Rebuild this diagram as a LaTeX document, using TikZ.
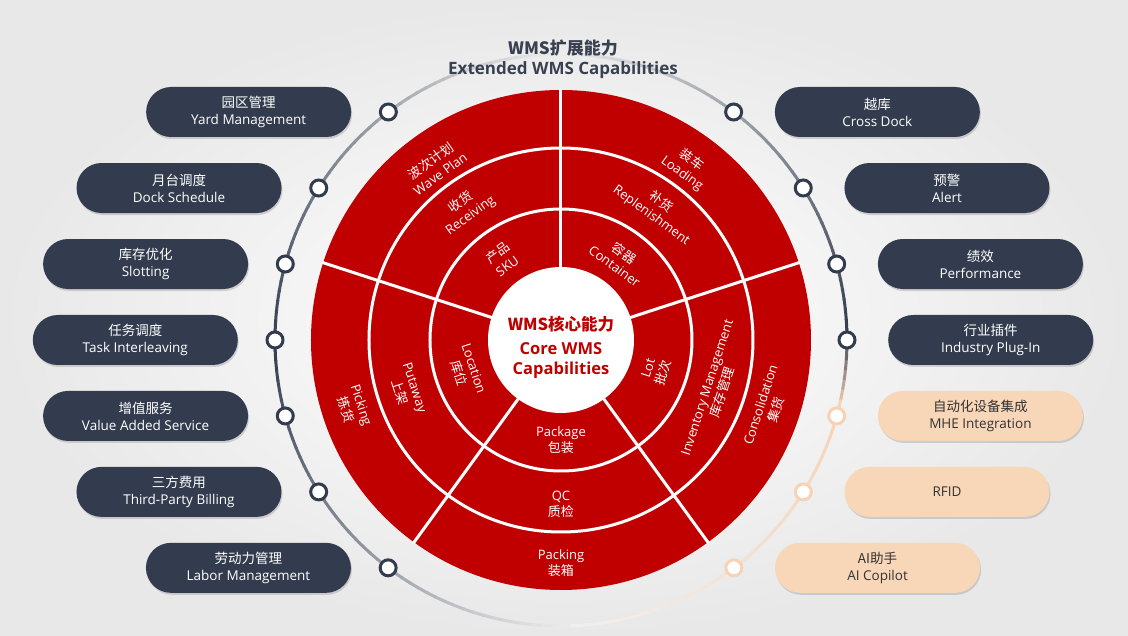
\documentclass[tikz,border=0pt]{standalone}
\usepackage{fontspec}
\setmainfont{Open Sans}
\newfontfamily\cjk{Noto Sans CJK SC}
\usepackage{tikz}
\usetikzlibrary{positioning,shadows}

\definecolor{wmsred}{HTML}{C00000}
\definecolor{slate}{HTML}{323C4E}
\definecolor{peach}{HTML}{F8D6B8}
\definecolor{peachline}{HTML}{F7D2B4}
\definecolor{titlecol}{HTML}{394150}
\definecolor{bgedge}{HTML}{E8E8E8}
\definecolor{arcfade}{HTML}{F1F1F1}

\tikzset{
  extbox/.style={rounded corners=25pt, minimum width=205pt, minimum height=50pt, inner sep=0pt,
    align=center, font=\fontsize{13.5}{17}\selectfont,
    drop shadow={shadow xshift=1pt, shadow yshift=-2pt, opacity=0.3}},
  extdark/.style={extbox, fill=slate, text=white},
  extpeach/.style={extbox, fill=peach, text=black!80},
  hubdot/.style={circle, draw=slate, line width=3pt, fill=white, minimum size=16pt, inner sep=0pt},
  hubdark/.style={hubdot},
  hubpeach/.style={hubdot, draw=peachline},
  ringlbl/.style={text=white, align=center, font=\fontsize{13}{16}\selectfont, inner sep=0pt},
}

\begin{document}
\begin{tikzpicture}[x=1pt,y=1pt]
    % Background
    \shade[inner color=white, outer color=bgedge] (-561,-296) rectangle (567,340);
    \useasboundingbox (-561,-296) rectangle (567,340);

    % Outer arcs
    \foreach \a in {92,94,...,266} {
        \pgfmathsetmacro\p{max(0,100*(1-abs(\a-180)/92))}
        \draw[line width=3pt, draw=slate!\p!arcfade] (\a:286) arc[start angle=\a, delta angle=2.3, radius=286];
    }
    \foreach \a in {0,2,...,86} {
        \pgfmathsetmacro\p{max(0,100*(1-\a/92))}
        \draw[line width=3pt, draw=slate!\p!arcfade] (\a:286) arc[start angle=\a, delta angle=2.3, radius=286];
    }
    \foreach \a in {-14,-12,...,-2} {
        \pgfmathsetmacro\p{100*(1+\a/14)}
        \draw[line width=3pt, draw=slate!\p!peachline] (\a:286) arc[start angle=\a, delta angle=2.3, radius=286];
    }
    \foreach \a in {-88,-86,...,-16} {
        \pgfmathsetmacro\p{max(0,100*(1-(abs(\a)-14)/76))}
        \draw[line width=3pt, draw=peachline!\p!arcfade] (\a:286) arc[start angle=\a, delta angle=2.3, radius=286];
    }

    % Title
    \node[text=titlecol, align=center, font=\bfseries\fontsize{17}{20}\selectfont] (title) at (2,281)
        {{\cjk\bfseries WMS扩展能力}\\Extended WMS Capabilities};

    % Core disc
    \fill[wmsred] (0,0) circle[radius=250];
    \foreach \r in {131,192}
        \draw[white, line width=3pt] (0,0) circle[radius=\r];
    \foreach \a in {18,90,...,306}
        \draw[white, line width=3pt] (\a:72) -- (\a:251);
    \fill[white] (0,0) circle[radius=73];
    \node[text=wmsred, align=center, font=\bfseries\fontsize{16.5}{20}\selectfont] (core) at (0,-7)
        {{\cjk\bfseries WMS核心能力}\\[4pt]Core WMS\\Capabilities};

    % Ring labels
    \foreach \nm/\ang/\rad/\rot/\txt in {
        sku/126/100/36/{{\cjk 产品}\\SKU},
        container/54/100/-36/{{\cjk 容器}\\Container},
        lot/-18/100/72/{Lot\\{\cjk 批次}},
        package/270/100/0/{Package\\{\cjk 包装}},
        location/198/100/-72/{Location\\{\cjk 库位}},
        receiving/126/162/36/{{\cjk 收货}\\Receiving},
        replenish/54/162/-36/{{\cjk 补货}\\Replenishment},
        inventory/-18/162/72/{Inventory Management\\{\cjk 库存管理}},
        qc/270/164/0/{QC\\{\cjk 质检}},
        putaway/198/162/-72/{Putaway\\{\cjk 上架}},
        waveplan/126/214/36/{{\cjk 波次计划}\\Wave Plan},
        loading/54/214/-36/{{\cjk 装车}\\Loading},
        consol/-18/218/72/{Consolidation\\{\cjk 集货}},
        packing/270/223/0/{Packing\\{\cjk 装箱}},
        picking/198/218/-72/{Picking\\{\cjk 拣货}}}
        \node[ringlbl, rotate=\rot] (\nm) at (\ang:\rad) {\txt};

    % Extended capabilities, left
    \foreach \nm/\k/\txt in {
        yard/3/{{\cjk 园区管理}\\Yard Management},
        dock/2/{{\cjk 月台调度}\\Dock Schedule},
        slot/1/{{\cjk 库存优化}\\Slotting},
        task/0/{{\cjk 任务调度}\\Task Interleaving},
        vas/-1/{{\cjk 增值服务}\\Value Added Service},
        billing/-2/{{\cjk 三方费用}\\Third-Party Billing},
        labor/-3/{{\cjk 劳动力管理}\\Labor Management}} {
        \pgfmathsetmacro\ang{180-asin(76*\k/286)}
        \node[hubdot] (c\nm) at (\ang:286) {};
        \node[extdark, left=27.5pt of c\nm] (\nm) {\txt};
    }

    % Extended capabilities, right
    \foreach \nm/\k/\sty/\txt in {
        xdock/3/dark/{{\cjk 越库}\\Cross Dock},
        alert/2/dark/{{\cjk 预警}\\Alert},
        perf/1/dark/{{\cjk 绩效}\\Performance},
        plugin/0/dark/{{\cjk 行业插件}\\Industry Plug-In},
        mhe/-1/peach/{{\cjk 自动化设备集成}\\MHE Integration},
        rfid/-2/peach/{RFID},
        copilot/-3/peach/{{\cjk AI助手}\\AI Copilot}} {
        \pgfmathsetmacro\ang{asin(76*\k/286)}
        \node[hub\sty] (c\nm) at (\ang:286) {};
        \node[ext\sty, right=31.5pt of c\nm] (\nm) {\txt};
    }
\end{tikzpicture}
\end{document}
